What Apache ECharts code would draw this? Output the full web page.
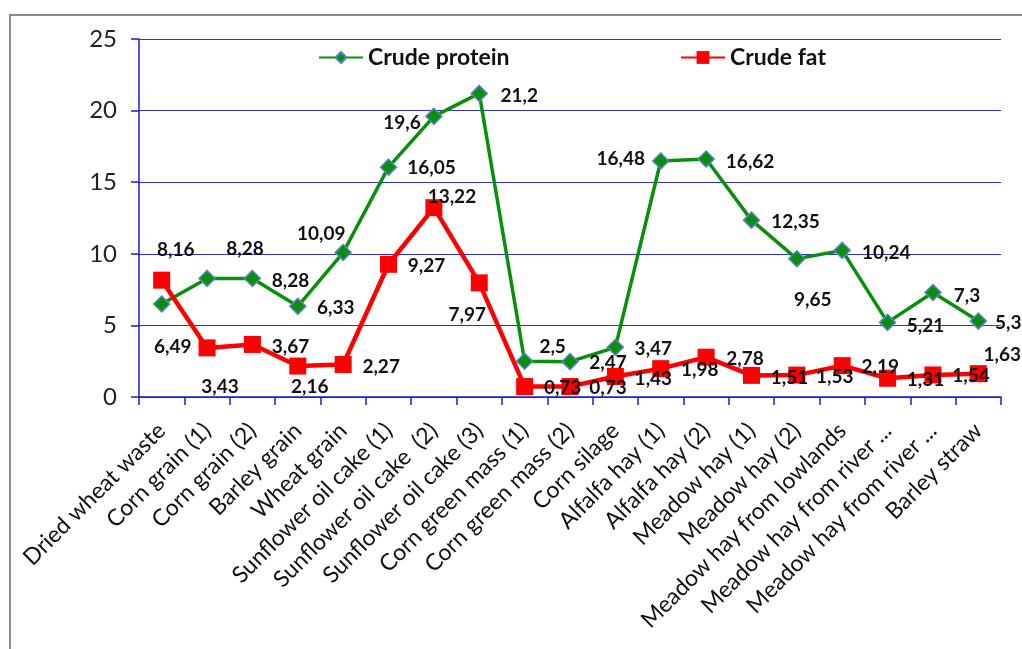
<!DOCTYPE html>
<html>
<head>
<meta charset="utf-8">
<style>html,body{margin:0;padding:0;background:#fff;}#c{width:1022px;height:649px;}</style>
<script src="https://cdn.jsdelivr.net/npm/echarts@6/dist/echarts.min.js"></script>
</head>
<body>
<div id="c"></div>
<script>
const categories = ['Dried wheat waste','Corn grain (1)','Corn grain (2)','Barley grain','Wheat grain','Sunflower oil cake (1)','Sunflower oil cake  (2)','Sunflower oil cake (3)','Corn green mass (1)','Corn green mass (2)','Corn silage','Alfalfa hay (1)','Alfalfa hay (2)','Meadow hay (1)','Meadow hay (2)','Meadow hay from lowlands','Meadow hay from river ...','Meadow hay from river ...','Barley straw'];
const crudeProtein = [6.49, 8.28, 8.28, 6.33, 10.09, 16.05, 19.6, 21.2, 2.5, 2.47, 3.47, 16.48, 16.62, 12.35, 9.65, 10.24, 5.21, 7.3, 5.3];
const crudeFat = [8.16, 3.43, 3.67, 2.16, 2.27, 9.27, 13.22, 7.97, 0.73, 0.73, 1.43, 1.98, 2.78, 1.51, 1.53, 2.19, 1.31, 1.54, 1.63];
const yTicks = [0, 5, 10, 15, 20, 25];

// label placement offsets (px, from point centre)
const proteinLabelOffsets = [[11,43],[38,-30],[38,2],[38,2],[-22,-19],[43,1],[-32,7],[40,2],[28,-14],[38,1],[38,2],[-40,-2],[44,3],[44,2],[16,41],[44,3],[38,3],[34,3],[30,2]];
const fatLabelOffsets = [[14,-30],[13,39],[38,2],[12,21],[38,2],[38,2],[18,-11],[-12,32],[38,1],[38,1],[38,2],[39,1],[39,2],[38,2],[38,2],[38,1],[38,2],[38,1],[24,-19]];

const fmt = v => String(v).replace('.', ',');
const FONT = 'Lato';

function buildData(values, offsets) {
  return values.map((v, i) => ({
    value: v,
    label: { offset: offsets[i] }
  }));
}

const labelStyle = {
  show: true,
  position: 'inside',
  align: 'center',
  verticalAlign: 'middle',
  color: '#111',
  fontFamily: FONT,
  fontWeight: 'bold',
  fontSize: 19,
  formatter: p => fmt(p.value)
};

const chart = echarts.init(document.getElementById('c'), null, { renderer: 'canvas' });
chart.setOption({
  animation: false,
  backgroundColor: '#fff',
  graphic: [{
    type: 'rect',
    shape: { x: 10, y: 15, width: 1040, height: 660 },
    style: { fill: 'none', stroke: '#8a8a8a', lineWidth: 2 },
    z: -10
  }],
  legend: [{
    data: ['Crude protein'],
    left: 313, top: 41,
    itemWidth: 44, itemHeight: 14,
    itemGap: 4,
    textStyle: { fontFamily: FONT, fontSize: 23, fontWeight: 'bold', color: '#111' }
  }, {
    data: ['Crude fat'],
    left: 675, top: 41,
    itemWidth: 44, itemHeight: 16,
    textStyle: { fontFamily: FONT, fontSize: 23, fontWeight: 'bold', color: '#111' }
  }],
  grid: { left: 139, right: 21, top: 39, bottom: 252, containLabel: false },
  xAxis: {
    type: 'category',
    data: categories,
    boundaryGap: true,
    axisLine: { lineStyle: { color: '#1a1ae0', width: 1.5 } },
    axisTick: { show: true, interval: 0, length: 8, lineStyle: { color: '#1a1ae0', width: 1.5 } },
    axisLabel: { interval: 0, rotate: 45, margin: 30, color: '#111', fontFamily: FONT, fontSize: 23 }
  },
  yAxis: {
    type: 'value',
    min: yTicks[0], max: yTicks[yTicks.length - 1], interval: 5,
    axisLine: { show: true, lineStyle: { color: '#1a1ae0', width: 1.5 } },
    axisTick: { show: true, length: 8, lineStyle: { color: '#1a1ae0', width: 1.5 } },
    splitLine: { show: true, lineStyle: { color: '#3030c8', width: 1.2 } },
    axisLabel: { margin: 22, color: '#222', fontFamily: FONT, fontSize: 24 }
  },
  series: [{
    name: 'Crude protein',
    type: 'line',
    data: buildData(crudeProtein, proteinLabelOffsets),
    symbol: 'diamond',
    symbolSize: 16,
    lineStyle: { color: '#0a8f0a', width: 3.5 },
    itemStyle: { color: '#0a8f0a', borderColor: '#5b80c8', borderWidth: 1.5 },
    label: labelStyle,
    z: 3
  }, {
    name: 'Crude fat',
    type: 'line',
    data: buildData(crudeFat, fatLabelOffsets),
    symbol: 'rect',
    symbolSize: 17,
    lineStyle: { color: '#ff0000', width: 4.5 },
    itemStyle: { color: '#ff0000' },
    label: labelStyle,
    z: 4
  }]
});
</script>
</body>
</html>
